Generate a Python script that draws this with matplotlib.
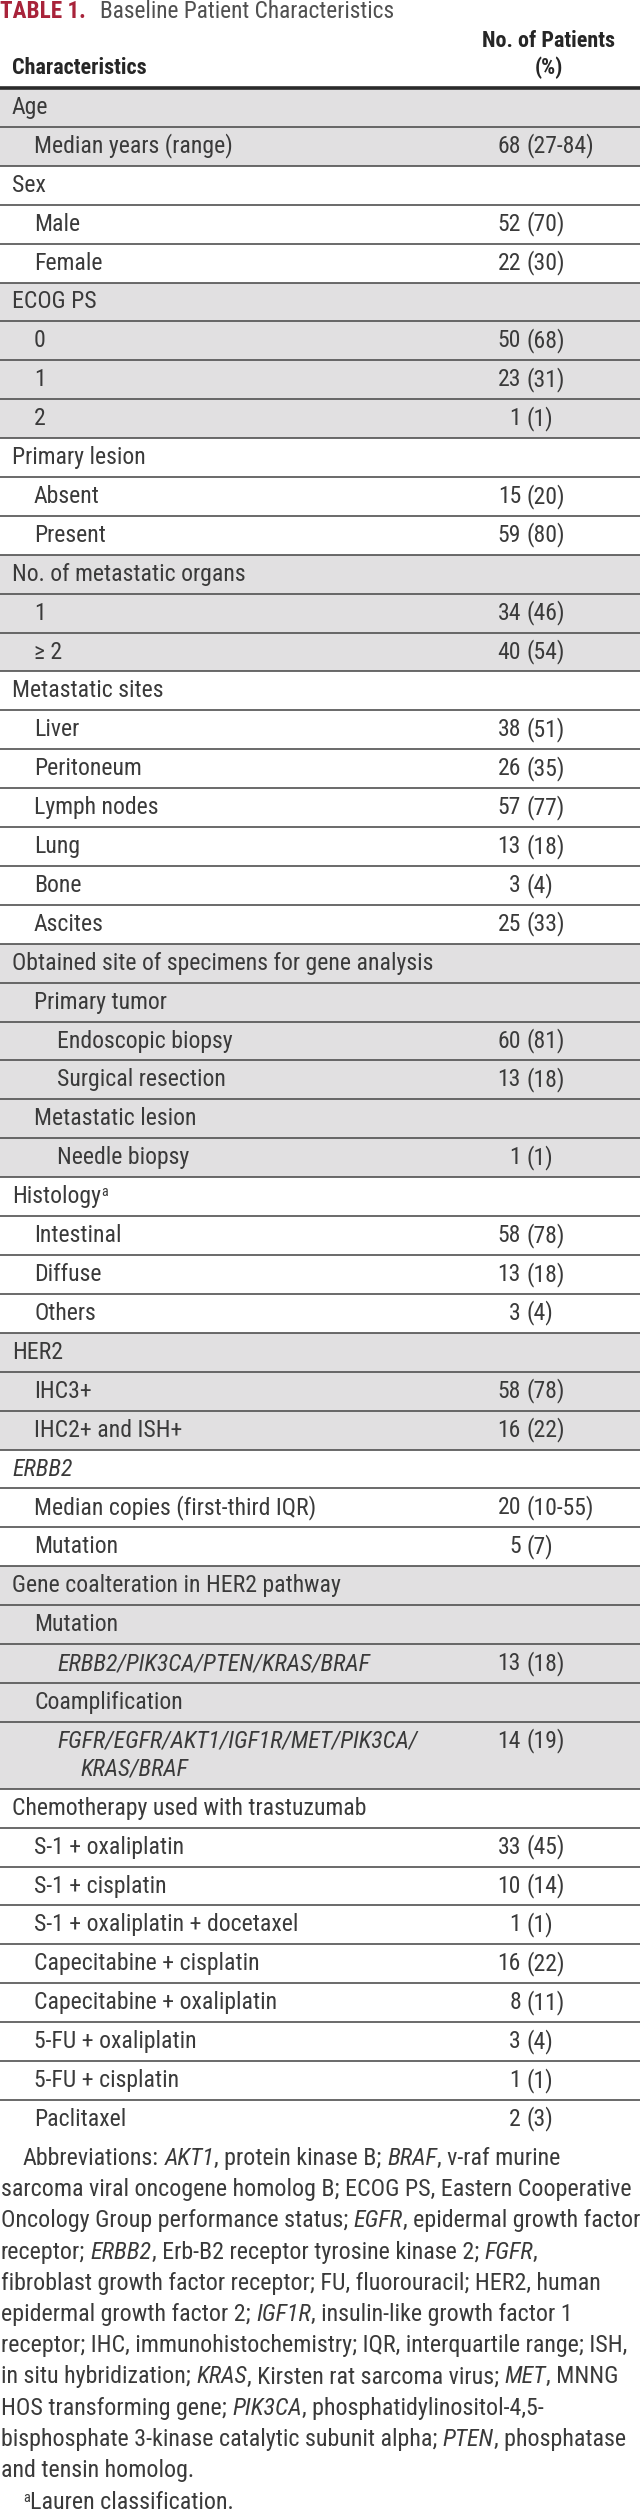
import matplotlib
matplotlib.use("Agg")
import matplotlib.pyplot as plt
from matplotlib import font_manager
from matplotlib.font_manager import FontProperties
from matplotlib.patches import Rectangle

# ---------------- data ----------------
title_tag = "TABLE 1."
title_text = "Baseline Patient Characteristics"
header_left = "Characteristics"
header_right = ["No. of Patients", "(%)"]

labels = [
    "Age", "Median years (range)",
    "Sex", "Male", "Female",
    "ECOG PS", "0", "1", "2",
    "Primary lesion", "Absent", "Present",
    "No. of metastatic organs", "1", "\u2265 2",
    "Metastatic sites", "Liver", "Peritoneum", "Lymph nodes", "Lung", "Bone", "Ascites",
    "Obtained site of specimens for gene analysis", "Primary tumor", "Endoscopic biopsy",
    "Surgical resection", "Metastatic lesion", "Needle biopsy",
    "Histology", "Intestinal", "Diffuse", "Others",
    "HER2", "IHC3+", "IHC2+ and ISH+",
    "ERBB2", "Median copies (first-third IQR)", "Mutation",
    "Gene coalteration in HER2 pathway", "Mutation", "ERBB2/PIK3CA/PTEN/KRAS/BRAF",
    "Coamplification", "FGFR/EGFR/AKT1/IGF1R/MET/PIK3CA/\nKRAS/BRAF",
    "Chemotherapy used with trastuzumab", "S-1 + oxaliplatin", "S-1 + cisplatin",
    "S-1 + oxaliplatin + docetaxel", "Capecitabine + cisplatin", "Capecitabine + oxaliplatin",
    "5-FU + oxaliplatin", "5-FU + cisplatin", "Paclitaxel",
]
levels = [
    0, 1,
    0, 1, 1,
    0, 1, 1, 1,
    0, 1, 1,
    0, 1, 1,
    0, 1, 1, 1, 1, 1, 1,
    0, 1, 2, 2, 1, 2,
    0, 1, 1, 1,
    0, 1, 1,
    0, 1, 1,
    0, 1, 2, 1, 2,
    0, 1, 1, 1, 1, 1, 1, 1, 1,
]
counts = [
    "", "68",
    "", "52", "22",
    "", "50", "23", "1",
    "", "15", "59",
    "", "34", "40",
    "", "38", "26", "57", "13", "3", "25",
    "", "", "60", "13", "", "1",
    "", "58", "13", "3",
    "", "58", "16",
    "", "20", "5",
    "", "", "13", "", "14",
    "", "33", "10", "1", "16", "8", "3", "1", "2",
]
percents = [
    "", "27-84",
    "", "70", "30",
    "", "68", "31", "1",
    "", "20", "80",
    "", "46", "54",
    "", "51", "35", "77", "18", "4", "33",
    "", "", "81", "18", "", "1",
    "", "78", "18", "4",
    "", "78", "22",
    "", "10-55", "7",
    "", "", "18", "", "19",
    "", "45", "14", "1", "22", "11", "4", "1", "3",
]
italic_labels = {"ERBB2", "ERBB2/PIK3CA/PTEN/KRAS/BRAF",
                 "FGFR/EGFR/AKT1/IGF1R/MET/PIK3CA/\nKRAS/BRAF"}
superscript_labels = {"Histology": "a"}

# footnote lines, *...* marks italic
footnote_lines = [
    "Abbreviations: *AKT1*, protein kinase B; *BRAF*, v-raf murine",
    "sarcoma viral oncogene homolog B; ECOG PS, Eastern Cooperative",
    "Oncology Group performance status; *EGFR*, epidermal growth factor",
    "receptor; *ERBB2*, Erb-B2 receptor tyrosine kinase 2; *FGFR*,",
    "fibroblast growth factor receptor; FU, fluorouracil; HER2, human",
    "epidermal growth factor 2; *IGF1R*, insulin-like growth factor 1",
    "receptor; IHC, immunohistochemistry; IQR, interquartile range; ISH,",
    "in situ hybridization; *KRAS*, Kirsten rat sarcoma virus; *MET*, MNNG",
    "HOS transforming gene; *PIK3CA*, phosphatidylinositol-4,5-",
    "bisphosphate 3-kinase catalytic subunit alpha; *PTEN*, phosphatase",
    "and tensin homolog.",
]
footnote_a = "Lauren classification."

# ---------------- style ----------------
W, H = 640, 2515
GRAY = "#e1e0e1"
LINE = "#505050"
TXT = "#3a3a3a"
RED = "#a8233a"


def first_font(names):
    avail = {f.name for f in font_manager.fontManager.ttflist}
    for n in names:
        if n in avail:
            return n
    return "DejaVu Sans"


FONT = first_font(["Liberation Sans Narrow", "Roboto Condensed", "Open Sans Condensed",
                   "Noto Sans Condensed", "DejaVu Sans"])

fig = plt.figure(figsize=(W / 100, H / 100), dpi=100)
ax = fig.add_axes([0, 0, 1, 1])
ax.set_xlim(0, W)
ax.set_ylim(H, 0)
ax.axis("off")
renderer = fig.canvas.get_renderer()


def prop(size, weight="normal", style="normal"):
    return FontProperties(family=FONT, size=size, weight=weight, style=style,
                          stretch="condensed")


def width(s, p):
    a = renderer.get_text_width_height_descent("|" + s + "|", p, False)[0]
    b = renderer.get_text_width_height_descent("||", p, False)[0]
    return a - b


def fit(s, target, **kw):
    return 10 * target / width(s, prop(10, **kw))


def run_width(line, size):
    # width of a line with *italic* runs
    tot = 0
    for n, seg in enumerate(line.split("*")):
        if seg:
            tot += width(seg, prop(size, style="italic" if n % 2 else "normal"))
    return tot


FS = fit("Median years (range)", 198)
FS_HEAD = fit("Characteristics", 135, weight="bold")
FS_TITLE = fit(title_text, 292)
FS_TAG = fit(title_tag, 86, weight="bold")
FS_NOTE = min(10 * (637 - (23 if j == 0 else 1)) / run_width(l, 10)
              for j, l in enumerate(footnote_lines))


def put(x, y, s, p, color=TXT, ha="left"):
    ax.text(x, y, s, fontproperties=p, color=color, ha=ha, va="baseline")


# ---------------- title & header ----------------
put(0, 18, title_tag, prop(FS_TAG, weight="bold"), color=RED)
put(100, 18, title_text, prop(FS_TITLE), color="#505050")

ph = prop(FS_HEAD, weight="bold")
put(12, 74, header_left, ph, color="#262626")
put(549, 47, header_right[0], ph, color="#262626", ha="center")
put(549, 74, header_right[1], ph, color="#262626", ha="center")

# ---------------- table body ----------------
TOP = 88
ROW_H = 38.9
EXTRA_LINE = 28
INDENT = [12, 34, 57]
X_NUM = 521

tops = []
y = TOP
for lab in labels:
    tops.append(y)
    y += ROW_H + EXTRA_LINE * lab.count("\n")
bottoms = tops[1:] + [y]

# section shading: alternate by level-0 groups
sec = -1
for i, lv in enumerate(levels):
    if lv == 0:
        sec += 1
    if sec % 2 == 0:
        ax.add_patch(Rectangle((0, tops[i]), W, bottoms[i] - tops[i], color=GRAY, lw=0, zorder=0))

ax.hlines(tops[1:], 0, W, color=LINE, lw=1.2, zorder=2)
ax.hlines(TOP, 0, W, color="#2a2a2a", lw=2.6, zorder=3)

pn = prop(FS)
pi = prop(FS, style="italic")
gap = width(" ", pn)
for i, lab in enumerate(labels):
    base = tops[i] + 26
    x = INDENT[levels[i]]
    p = pi if lab in italic_labels else pn
    for k, part in enumerate(lab.split("\n")):
        put(x + (23 if k else 0), base + EXTRA_LINE * k, part, p)
    if lab in superscript_labels:
        put(x + width(lab, p) + 0.5, base - 7, superscript_labels[lab], prop(FS * 0.6))
    if counts[i]:
        put(X_NUM, base, counts[i], pn, ha="right")
        put(X_NUM + gap, base, "(" + percents[i] + ")", pn)

# ---------------- footnote ----------------
pfn = prop(FS_NOTE)
pfi = prop(FS_NOTE, style="italic")
sp = width(" ", pfn)
NOTE_Y = 2165
NOTE_DY = 31.2
for j, line in enumerate(footnote_lines):
    x = 23 if j == 0 else 1
    yb = NOTE_Y + NOTE_DY * j
    for n, seg in enumerate(line.split("*")):
        if not seg:
            continue
        p = pfi if n % 2 else pfn
        lead = len(seg) - len(seg.lstrip(" "))
        x += lead * sp
        put(x, yb, seg.strip(" "), p)
        x += width(seg.strip(" "), p)
        x += (len(seg) - len(seg.rstrip(" "))) * sp

yb = NOTE_Y + NOTE_DY * len(footnote_lines) + 1
put(23, yb - 7, "a", prop(FS_NOTE * 0.6))
put(23 + width("a", prop(FS_NOTE * 0.6)) + 0.5, yb, footnote_a, pfn)

fig.savefig("out.png", dpi=100)
